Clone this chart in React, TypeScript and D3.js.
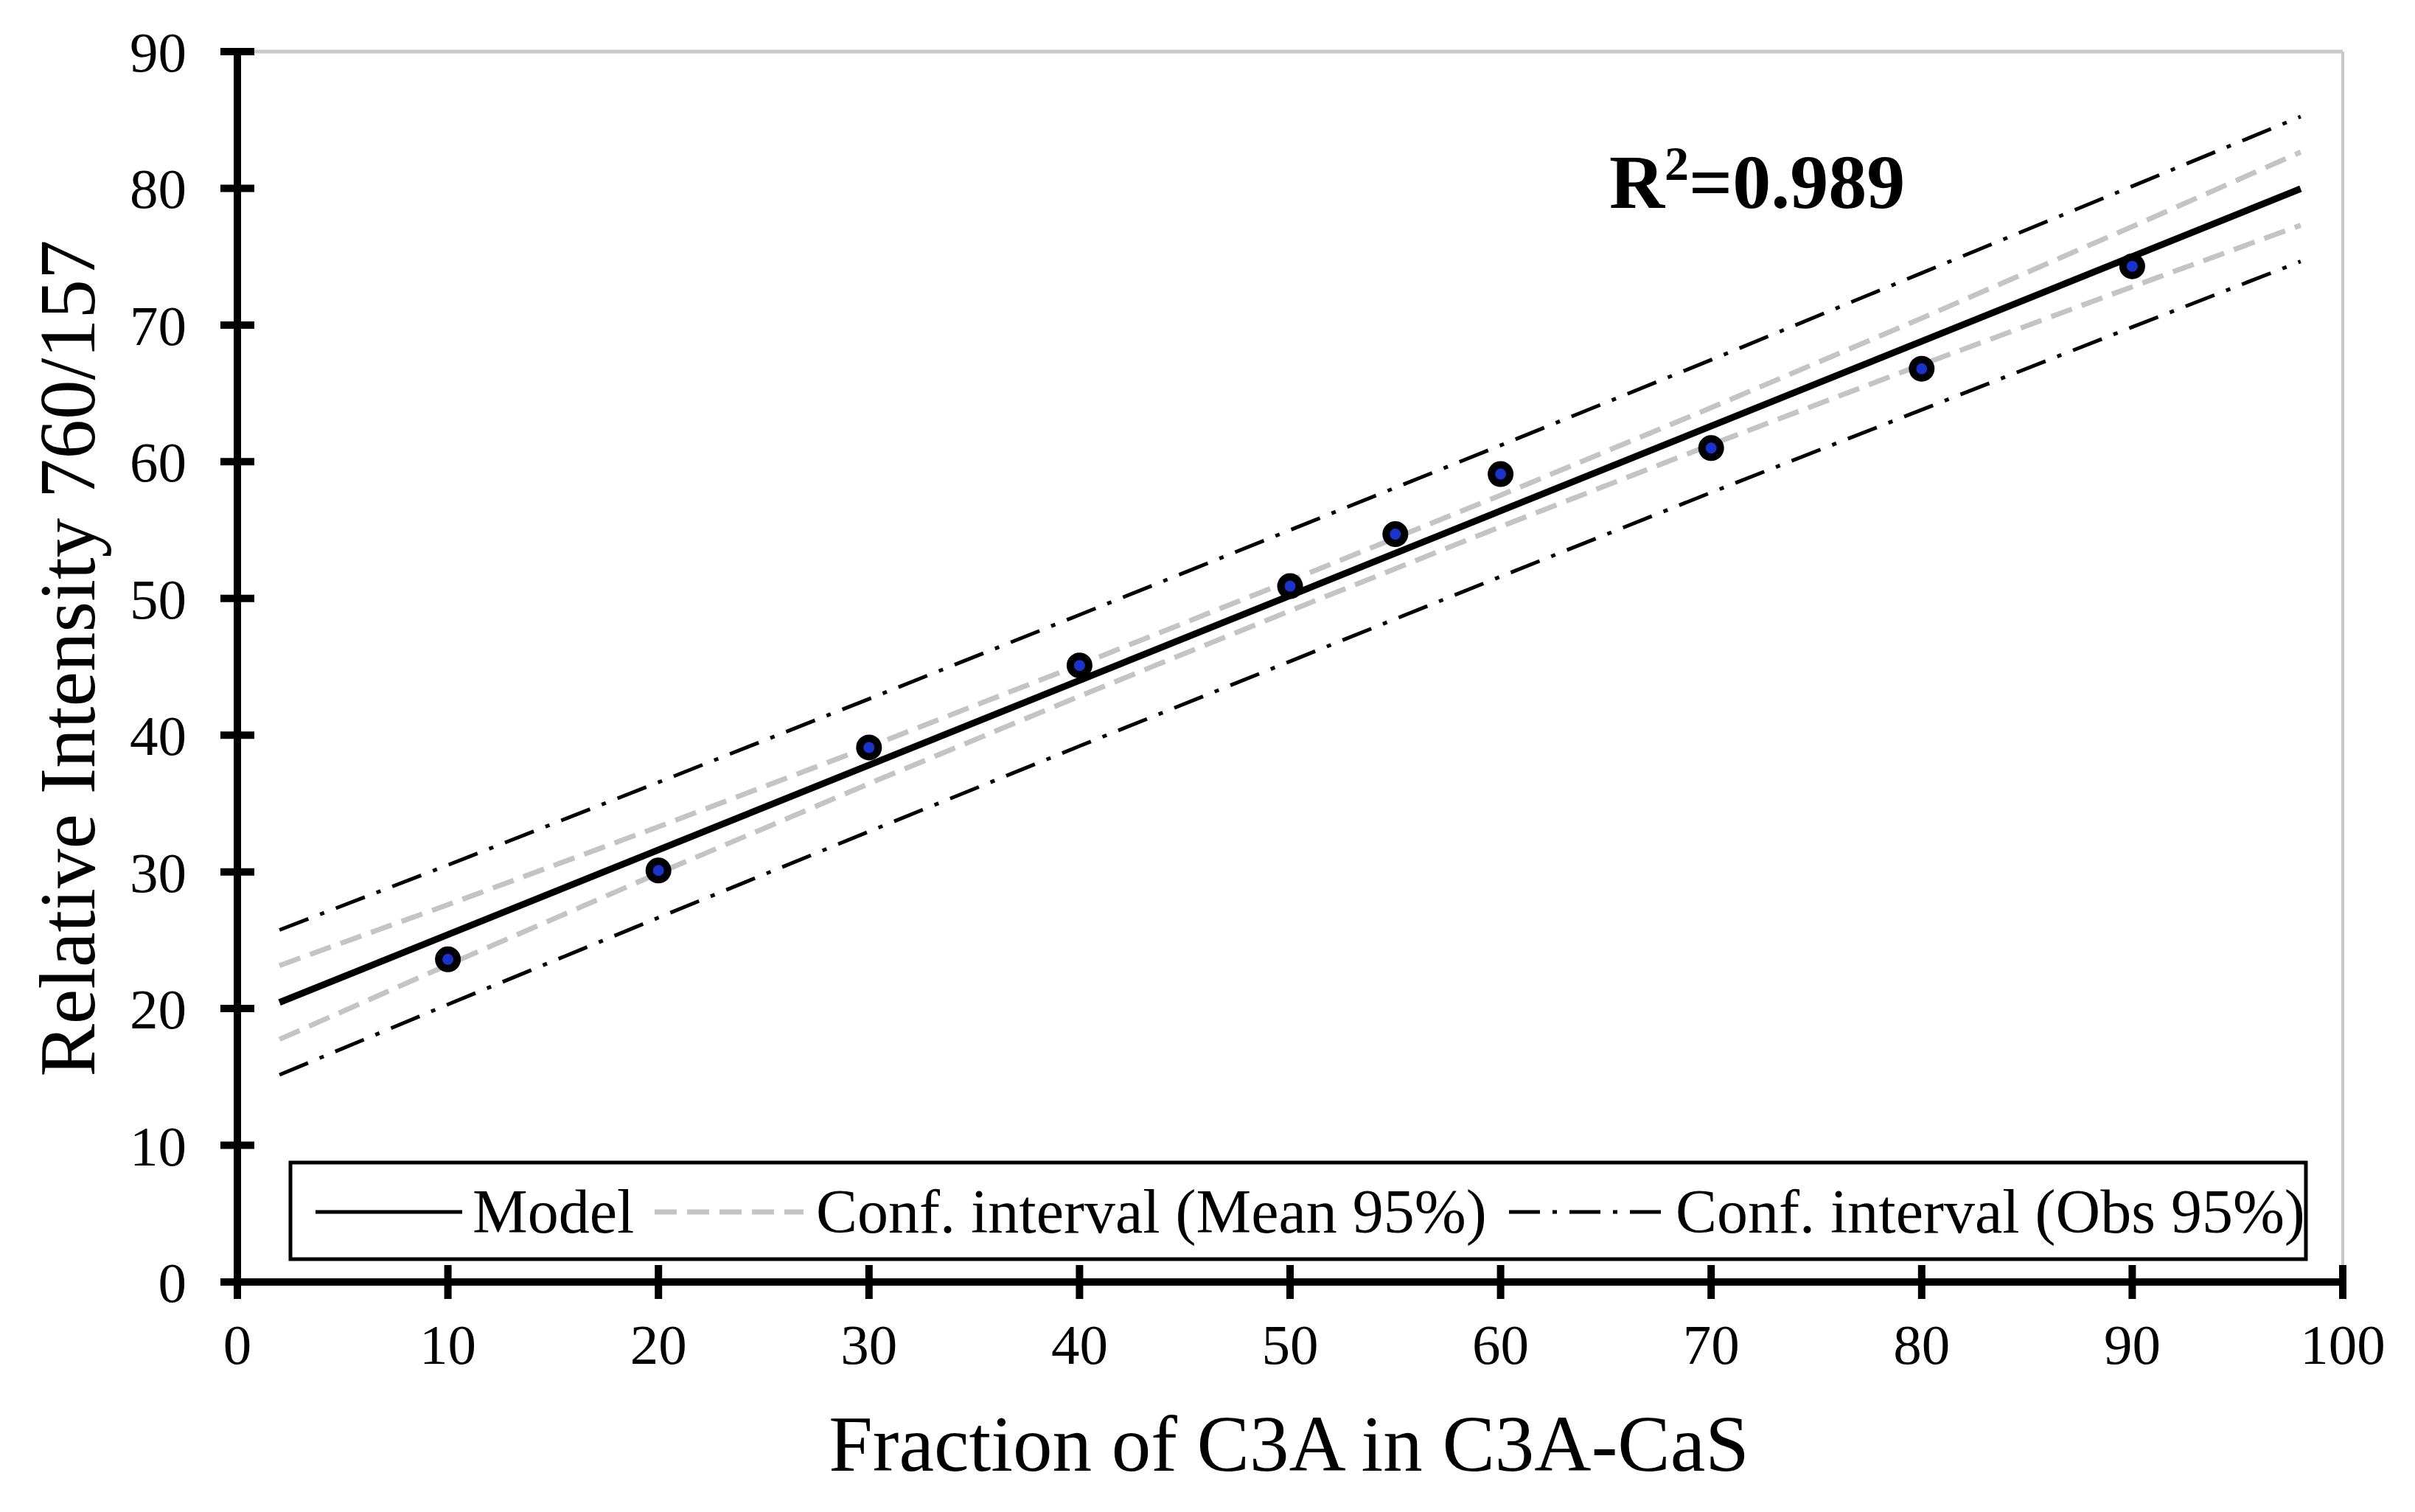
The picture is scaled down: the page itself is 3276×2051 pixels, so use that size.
import React from "react";
import * as d3 from "d3";

const W = 3276;
const H = 2051;

// Observed data
const fractionC3A = [10, 20, 30, 40, 50, 55, 60, 70, 80, 90];
const relIntensity = [23.6, 30.1, 39.1, 45.1, 50.9, 54.7, 59.1, 61.0, 66.8, 74.3];

// Model line and confidence bands
const modelX = [2, 98];
const modelY = [20.45, 79.97];
const bandX = [2, 10, 20, 30, 40, 50, 60, 70, 80, 90, 98];
const meanUpper = [23.15, 27.6, 33.3, 39.15, 45.15, 51.3, 57.55, 63.95, 70.5, 77.2, 82.65];
const meanLower = [17.75, 23.2, 29.9, 36.45, 42.85, 49.1, 55.25, 61.25, 67.1, 72.8, 77.3];
const obsUpper = [25.75, 30.5, 36.55, 42.65, 48.8, 55.0, 61.2, 67.45, 73.8, 80.15, 85.25];
const obsLower = [15.15, 20.3, 26.65, 32.95, 39.2, 45.4, 51.6, 57.75, 63.8, 69.85, 74.65];

const xTicks = [0, 10, 20, 30, 40, 50, 60, 70, 80, 90, 100];
const yTicks = [0, 10, 20, 30, 40, 50, 60, 70, 80, 90];

const legendLabels = ["Model", "Conf. interval (Mean 95%)", "Conf. interval (Obs 95%)"];

const FONT = "'Liberation Serif', 'Times New Roman', serif";

export default function App() {
  const left = 322, right = 3178, top = 70, bottom = 1739;
  const x = d3.scaleLinear().domain([0, 100]).range([left, right]);
  const y = d3.scaleLinear().domain([0, 90]).range([bottom, top]);

  const line = d3.line<[number, number]>().x((d) => x(d[0])).y((d) => y(d[1]));
  const zip = (xs: number[], ys: number[]) => xs.map((v, i) => [v, ys[i]] as [number, number]);

  const meanStyle = { stroke: "#c4c4c4", strokeWidth: 7, strokeDasharray: "30 14", fill: "none" };
  const obsStyle = { stroke: "#000", strokeWidth: 5, strokeDasharray: "42 17 6 17", fill: "none" };
  const modelStyle = { stroke: "#000", strokeWidth: 9, fill: "none" };

  const tickLen = 23;
  const legY = 1644;

  return (
    <svg
      width={W}
      height={H}
      style={{ position: "absolute", left: 0, top: 0, background: "#fff" }}
      fontFamily={FONT}
    >
      <rect x={0} y={0} width={W} height={H} fill="#fff" />
      {/* frame top/right */}
      <line x1={left} x2={right} y1={top} y2={top} stroke="#c8c8c8" strokeWidth={5} />
      <line x1={right} x2={right} y1={top} y2={bottom} stroke="#c8c8c8" strokeWidth={4} />

      {/* bands */}
      <path d={line(zip(bandX, obsUpper)) || ""} {...obsStyle} />
      <path d={line(zip(bandX, obsLower)) || ""} {...obsStyle} />
      <path d={line(zip(bandX, meanUpper)) || ""} {...meanStyle} />
      <path d={line(zip(bandX, meanLower)) || ""} {...meanStyle} />
      <path d={line(zip(modelX, modelY)) || ""} {...modelStyle} />

      {/* points */}
      {fractionC3A.map((fx, i) => (
        <circle key={i} cx={x(fx)} cy={y(relIntensity[i])} r={12.5} fill="#1a33cc" stroke="#000" strokeWidth={10} />
      ))}

      {/* axes */}
      <line x1={left} x2={left} y1={top} y2={bottom} stroke="#000" strokeWidth={10} />
      <line x1={left - tickLen} x2={right} y1={bottom} y2={bottom} stroke="#000" strokeWidth={10} />
      {yTicks.map((t) => (
        <g key={"y" + t}>
          <line x1={left - tickLen} x2={left + tickLen} y1={y(t)} y2={y(t)} stroke="#000" strokeWidth={10} />
          <text x={253} y={y(t) + 27} textAnchor="end" fontSize={77} fill="#000">
            {t}
          </text>
        </g>
      ))}
      {xTicks.map((t) => (
        <g key={"x" + t}>
          <line x1={x(t)} x2={x(t)} y1={bottom - tickLen} y2={bottom + tickLen} stroke="#000" strokeWidth={10} />
          <text x={x(t)} y={1850} textAnchor="middle" fontSize={77} fill="#000">
            {t}
          </text>
        </g>
      ))}

      {/* legend */}
      <rect x={394} y={1577} width={2734} height={131} fill="#fff" stroke="#000" strokeWidth={5} />
      <line x1={428} x2={627} y1={legY} y2={legY} stroke="#000" strokeWidth={5} />
      <text x={641} y={legY + 28} fontSize={84}>{legendLabels[0]}</text>
      <line x1={888} x2={1090} y1={legY} y2={legY} {...meanStyle} strokeWidth={7} />
      <text x={1107} y={legY + 28} fontSize={84}>{legendLabels[1]}</text>
      <line x1={2047} x2={2256} y1={legY} y2={legY} {...obsStyle} />
      <text x={2273} y={legY + 28} fontSize={84}>{legendLabels[2]}</text>

      {/* R2 */}
      <text x={2183} y={282} fontSize={104} fontWeight="bold">
        R<tspan fontSize={66} dy={-38}>2</tspan>
        <tspan dy={38}>=0.989</tspan>
      </text>

      {/* axis titles */}
      <text x={(1122 + 2375) / 2} y={1995} textAnchor="middle" fontSize={107}>
        Fraction of C3A in C3A-CaS
      </text>
      <text transform={`translate(128, 893) rotate(-90)`} textAnchor="middle" fontSize={107}>
        Relative Intensity 760/157
      </text>
    </svg>
  );
}
